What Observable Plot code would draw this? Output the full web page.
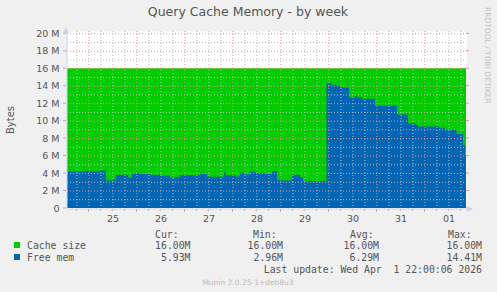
<!DOCTYPE html>
<html>
<head>
<meta charset="utf-8">
<script src="https://cdn.jsdelivr.net/npm/d3@7"></script>
<script src="https://cdn.jsdelivr.net/npm/@observablehq/plot@0.6"></script>
<style>
  html, body { margin: 0; padding: 0; background: #f0f0f0; }
  #chart { width: 497px; height: 292px; overflow: hidden; }
</style>
</head>
<body>
<div id="chart"></div>
<script>
// ---- data (values in M) ----
const domainStart = "2026-03-24T13:15Z";
const domainEnd = "2026-04-01T20:45Z";

const cacheTimes = ["2026-03-24T13:15Z", "2026-04-01T20:45Z"];
const cacheValues = [16, 16];

const freeTimes = [
  "2026-03-24T13:15Z", "2026-03-24T22:45Z", "2026-03-25T00:15Z", "2026-03-25T05:45Z",
  "2026-03-25T08:45Z", "2026-03-25T12:15Z", "2026-03-25T13:45Z", "2026-03-25T19:45Z",
  "2026-03-25T21:45Z", "2026-03-26T00:15Z", "2026-03-26T01:45Z", "2026-03-26T06:45Z",
  "2026-03-26T11:45Z", "2026-03-26T16:45Z", "2026-03-26T19:15Z", "2026-03-26T21:45Z",
  "2026-03-27T07:45Z", "2026-03-27T11:15Z", "2026-03-27T19:45Z", "2026-03-27T20:45Z",
  "2026-03-28T01:45Z", "2026-03-28T03:45Z", "2026-03-28T06:15Z", "2026-03-28T08:45Z",
  "2026-03-28T11:15Z", "2026-03-28T16:15Z", "2026-03-28T19:45Z", "2026-03-28T22:15Z",
  "2026-03-28T23:45Z", "2026-03-29T05:45Z", "2026-03-29T09:45Z", "2026-03-29T11:15Z",
  "2026-03-29T15:15Z", "2026-03-29T23:00Z", "2026-03-30T01:45Z", "2026-03-30T03:45Z",
  "2026-03-30T05:45Z", "2026-03-30T10:15Z", "2026-03-30T13:15Z", "2026-03-30T14:15Z",
  "2026-03-30T16:45Z", "2026-03-30T23:15Z", "2026-03-31T10:15Z", "2026-03-31T15:45Z",
  "2026-03-31T19:45Z", "2026-03-31T20:45Z", "2026-04-01T07:45Z", "2026-04-01T10:15Z",
  "2026-04-01T16:00Z", "2026-04-01T19:15Z", "2026-04-01T20:15Z", "2026-04-01T20:45Z"
];
const freeValues = [
  4.18, 4.26, 4.18, 4.30,
  3.15, 3.30, 3.80, 3.50,
  3.95, 4.00, 3.90, 3.80,
  3.70, 3.45, 3.55, 3.75,
  3.90, 3.58, 4.07, 3.75,
  3.60, 4.03, 3.85, 4.15,
  4.00, 3.90, 4.20, 3.20,
  3.15, 3.80, 3.55, 3.05,
  3.10, 14.29, 14.10, 14.00,
  13.80, 12.65, 12.80, 12.70,
  12.50, 11.70, 10.70, 9.70,
  9.50, 9.33, 9.14, 8.95,
  8.46, 7.20, 5.93, 5.93
];

const yTicks = [0, 2, 4, 6, 8, 10, 12, 14, 16, 18, 20];
const yTickLabels = ["0", "2 M", "4 M", "6 M", "8 M", "10 M", "12 M", "14 M", "16 M", "18 M", "20 M"];
const dayLabels = ["25", "26", "27", "28", "29", "30", "31", "01"];
const dayNoons = ["2026-03-25T12:00Z", "2026-03-26T12:00Z", "2026-03-27T12:00Z", "2026-03-28T12:00Z",
                  "2026-03-29T12:00Z", "2026-03-30T12:00Z", "2026-03-31T12:00Z", "2026-04-01T12:00Z"];

const title = "Query Cache Memory - by week";
const yLabel = "Bytes";
const sideText = "RRDTOOL / TOBI OETIKER";
const seriesNames = ["Cache size", "Free mem"];
const seriesColors = ["#00cc00", "#0066b3"];
const statHeaders = ["Cur:", "Min:", "Avg:", "Max:"];
const statRows = [["16.00M", "16.00M", "16.00M", "16.00M"], ["5.93M", "2.96M", "6.29M", "14.41M"]];
const lastUpdate = "Last update: Wed Apr  1 22:00:06 2026";
const footer = "Munin 2.0.25-1+deb8u3";

// ---- derived tables ----
const parse = s => new Date(s);
const cache = cacheTimes.map((t, i) => ({t: parse(t), v: cacheValues[i]}));
const free = freeTimes.map((t, i) => ({t: parse(t), v: freeValues[i]}));
const x0 = parse(domainStart), x1 = parse(domainEnd);
const majorX = d3.utcDay.range(x0, x1);
const minorX = d3.utcHour.every(6).range(x0, x1).filter(d => d.getUTCHours() !== 0);
const minorY = d3.range(1, 20, 2);
const majorY = yTicks;
const days = dayNoons.map((t, i) => ({t: parse(t), label: dayLabels[i]}));
const yt = yTicks.map((v, i) => ({v, label: yTickLabels[i]}));

const grey = "#bdbdbd";
const red = "#ee9090";
const axisFont = "DejaVu Sans";

const plot = Plot.plot({
  width: 497,
  height: 292,
  marginLeft: 67,
  marginRight: 31,
  marginTop: 31,
  marginBottom: 84,
  style: {background: "#f0f0f0", fontFamily: axisFont, overflow: "visible"},
  x: {type: "utc", domain: [x0, x1], axis: null},
  y: {domain: [0, 20.26], axis: null},
  marks: [
    Plot.frame({fill: "white", stroke: null}),
    Plot.areaY(cache, {x: "t", y: "v", fill: seriesColors[0], curve: "step-after"}),
    Plot.areaY(free, {x: "t", y: "v", fill: seriesColors[1], curve: "step-after"}),
    Plot.ruleX(minorX, {stroke: grey, strokeDasharray: "1,2", strokeWidth: 1}),
    Plot.ruleY(minorY, {stroke: grey, strokeDasharray: "1,2", strokeWidth: 1}),
    Plot.ruleX(majorX, {stroke: red, strokeDasharray: "1,2", strokeWidth: 1}),
    Plot.ruleY(majorY.filter(v => v > 0), {stroke: red, strokeDasharray: "1,2", strokeWidth: 1}),
    // y tick labels
    Plot.text(yt, {x: x0, y: "v", text: "label", textAnchor: "end", dx: -8, fill: "#555", fontSize: 9.5}),
    // day labels
    Plot.text(days, {x: "t", y: 0, text: "label", dy: 7, lineAnchor: "top", fill: "#555", fontSize: 9.5}),
    // axis lines
    Plot.ruleX([x0], {stroke: "#c8d4f0", y1: 0, y2: 20.26, dx: -0.5}),
    Plot.ruleY([0], {stroke: "#c8d4f0", x1: x0, x2: x1, dy: 0.5})
  ]
});

const svg = d3.select(plot);
const xs = plot.scale("x"), ys = plot.scale("y");
const g = svg.append("g");
yTicks.forEach(v => {
  const y = ys.apply(v);
  g.append("line").attr("x1", 63).attr("x2", 66).attr("y1", y).attr("y2", y).attr("stroke", red);
  g.append("line").attr("x1", 466).attr("x2", 469).attr("y1", y).attr("y2", y).attr("stroke", red);
});
majorX.forEach(d => {
  const x = xs.apply(d);
  g.append("line").attr("x1", x).attr("x2", x).attr("y1", 209).attr("y2", 212).attr("stroke", red);
});
minorX.forEach(d => {
  const x = xs.apply(d);
  g.append("line").attr("x1", x).attr("x2", x).attr("y1", 209).attr("y2", 211).attr("stroke", grey);
});
g.append("path").attr("d", "M63,33 L66,27 L69,33 Z").attr("fill", "#c8d4f0");
g.append("path").attr("d", "M467,206 L473,209 L467,212 Z").attr("fill", "#c8d4f0");

svg.append("text").attr("x", 248).attr("y", 16).attr("text-anchor", "middle")
  .attr("font-family", axisFont).attr("font-size", 12.5).attr("fill", "#555").text(title);
svg.append("text").attr("transform", "translate(14,120) rotate(-90)").attr("text-anchor", "middle")
  .attr("font-family", axisFont).attr("font-size", 10).attr("fill", "#555").text(yLabel);
svg.append("text").attr("transform", "translate(485,7) rotate(90)").attr("text-anchor", "start")
  .attr("font-family", axisFont).attr("font-size", 7.5).attr("fill", "#c0c0c0").text(sideText);

const mono = "DejaVu Sans Mono";
const lg = svg.append("g").attr("font-family", mono).attr("font-size", 9.8).attr("fill", "#555").attr("text-anchor", "start");
const headerX = [155, 253, 350, 448];
const colRight = [190.5, 283, 379, 482];
statHeaders.forEach((h, i) => lg.append("text").attr("x", headerX[i]).attr("y", 237.5).attr("text-anchor", "start").text(h));
seriesNames.forEach((name, r) => {
  const y = 249 + r * 12;
  svg.append("rect").attr("x", 14).attr("y", y - 7).attr("width", 6).attr("height", 6).attr("fill", seriesColors[r]);
  lg.append("text").attr("x", 27).attr("y", y).attr("text-anchor", "start").text(name);
  statRows[r].forEach((s, i) => lg.append("text").attr("x", colRight[i]).attr("y", y).attr("text-anchor", "end").text(s));
});
lg.append("text").attr("x", 482).attr("y", 273).attr("text-anchor", "end")
  .style("white-space", "pre").text(lastUpdate);
svg.append("text").attr("x", 248).attr("y", 285).attr("text-anchor", "middle")
  .attr("font-family", axisFont).attr("font-size", 7.5).attr("fill", "#bbb").text(footer);

document.getElementById("chart").appendChild(plot);
</script>
</body>
</html>
